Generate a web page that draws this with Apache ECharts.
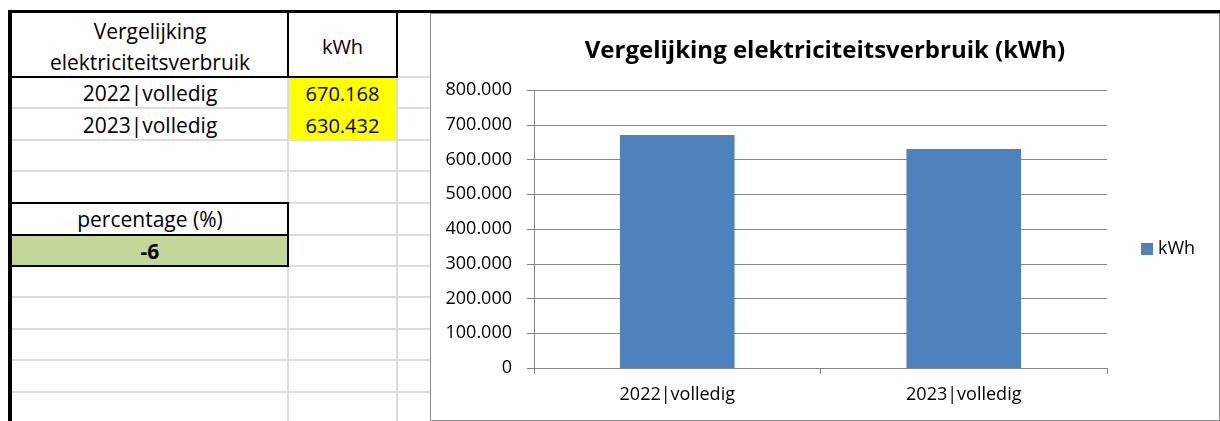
<!DOCTYPE html>
<html>
<head>
<meta charset="utf-8">
<script src="https://cdn.jsdelivr.net/npm/echarts@6/dist/echarts.min.js"></script>
<style>
  html, body { margin: 0; padding: 0; background: #ffffff; width: 1220px; height: 421px; overflow: hidden; }
  body { position: relative; font-family: "Open Sans", "Noto Sans", sans-serif; }
  .ln { position: absolute; }
  .cell { position: absolute; display: flex; align-items: center; justify-content: center; text-align: center; color: #000; font-size: 21px; line-height: 31px; box-sizing: border-box; }
  #chart { position: absolute; left: 430px; top: 13px; width: 788px; height: 406px; border: 1px solid #8c8c8c; background: #fff; }
</style>
</head>
<body>
<div id="sheet"></div>
<div id="chart"></div>
<script>
// ---- data ----
const categories = ['2022|volledig', '2023|volledig'];
const kwhValues = [670168, 630432];
const seriesName = 'kWh';
const chartTitle = 'Vergelijking elektriciteitsverbruik (kWh)';
const tableHeader = ['Vergelijking', 'elektriciteitsverbruik'];
const percentageLabel = 'percentage (%)';
const percentageValue = -6;
const yAxisMin = 0;
const yAxisMax = 800000;
const yAxisInterval = 100000;

function nlFormat(v) {
  return String(Math.round(v)).replace(/\B(?=(\d{3})+(?!\d))/g, '.');
}

// ---- spreadsheet background ----
const sheet = document.getElementById('sheet');
function line(x, y, w, h, color) {
  const d = document.createElement('div');
  d.className = 'ln';
  d.style.left = x + 'px'; d.style.top = y + 'px';
  d.style.width = w + 'px'; d.style.height = h + 'px';
  d.style.background = color;
  sheet.appendChild(d);
}
function cell(x, y, w, h, html, extra) {
  const d = document.createElement('div');
  d.className = 'cell';
  d.style.left = x + 'px'; d.style.top = y + 'px';
  d.style.width = w + 'px'; d.style.height = h + 'px';
  d.innerHTML = html;
  if (extra) Object.assign(d.style, extra);
  sheet.appendChild(d);
}
const grid = '#dcdcdc';
// fills
cell(12, 235, 276, 31, '', { background: '#c4d79b' });
// light grid lines
[108, 140, 171, 266, 297, 329, 360, 392].forEach(y => line(12, y - 1, 420, 2, grid));
[203, 235].forEach(y => line(288, y - 1, 144, 2, grid));
line(397, 76, 33, 2, grid);
line(287, 77, 2, 344, grid);
line(396, 77, 2, 344, grid);
// yellow fill covers grid
cell(289, 77, 107, 63, '', { background: '#ffff00' });
// black borders
line(8, 10, 1212, 3, '#000');
line(8, 10, 4, 411, '#000');
line(12, 76, 386, 2, '#000');
line(287, 13, 2, 64, '#000');
line(396, 13, 2, 64, '#000');
line(12, 202, 277, 2, '#000');
line(12, 234, 277, 2, '#000');
line(12, 265, 277, 2, '#000');
line(287, 202, 2, 65, '#000');
// texts
cell(12, 16, 276, 31, tableHeader[0]);
cell(12, 47, 276, 31, tableHeader[1]);
cell(289, 13, 107, 66, seriesName, { fontSize: '20px' });
categories.forEach((c, i) => {
  cell(12, 78 + i * 31.5, 276, 31, c);
  cell(289, 78 + i * 31.5, 107, 31, nlFormat(kwhValues[i]), { fontSize: '20px' });
});
cell(12, 204, 276, 31, percentageLabel);
cell(12, 236, 276, 30, String(percentageValue), { fontWeight: 'bold' });

// ---- chart ----
const chart = echarts.init(document.getElementById('chart'), null, { renderer: 'canvas' });
const axisGrey = '#868686';
chart.setOption({
  animation: false,
  backgroundColor: '#ffffff',
  title: {
    text: chartTitle,
    left: 'center',
    top: 20,
    textStyle: { fontFamily: 'Open Sans', fontWeight: 'bold', fontSize: 24, color: '#000' }
  },
  legend: {
    data: [seriesName],
    left: 705,
    top: 221,
    icon: 'rect',
    itemWidth: 12,
    itemHeight: 12,
    itemGap: 7,
    textStyle: { fontFamily: 'Open Sans', fontSize: 18, color: '#000', padding: [0, 0, 0, 0] }
  },
  grid: { left: 103, top: 76, width: 573, height: 278, containLabel: false },
  xAxis: {
    type: 'category',
    data: categories,
    axisLine: { lineStyle: { color: axisGrey, width: 1 } },
    axisTick: { show: true, length: 6, lineStyle: { color: axisGrey } },
    axisLabel: { margin: 18, fontFamily: 'Open Sans', fontSize: 18, color: '#000' },
    splitLine: { show: false }
  },
  yAxis: {
    type: 'value',
    min: yAxisMin,
    max: yAxisMax,
    interval: yAxisInterval,
    axisLine: { show: true, lineStyle: { color: axisGrey, width: 1 } },
    axisTick: { show: true, length: 7, lineStyle: { color: axisGrey } },
    axisLabel: { margin: 22, fontFamily: 'Open Sans', fontSize: 18, color: '#000', formatter: v => nlFormat(v) },
    splitLine: { show: true, lineStyle: { color: axisGrey, width: 1 } }
  },
  series: [{
    name: seriesName,
    type: 'bar',
    data: kwhValues,
    barWidth: '40%',
    itemStyle: { color: '#4f81bd' }
  }]
});
</script>
</body>
</html>
